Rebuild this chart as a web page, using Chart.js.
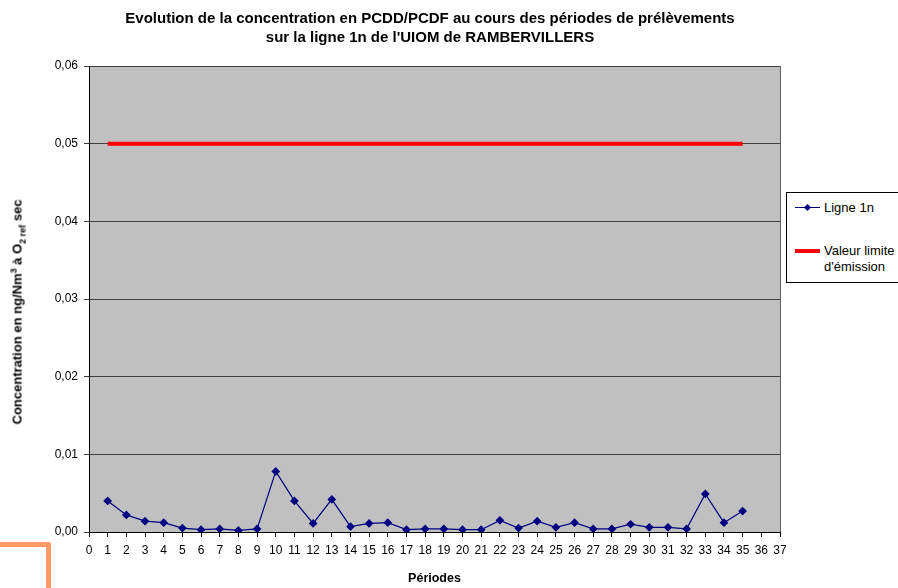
<!DOCTYPE html>
<html>
<head>
<meta charset="utf-8">
<script src="https://cdn.jsdelivr.net/npm/chart.js@4.4.1/dist/chart.umd.min.js"></script>
<style>
  body { margin: 0; background: #fff; font-family: "Liberation Sans", Arial, sans-serif; }
  #wrap { position: relative; width: 898px; height: 588px; overflow: hidden; }
  #titre {
    position: absolute; left: 430px; top: 7.5px; transform: translateX(-50%);
    white-space: nowrap; text-align: center; font-weight: bold; font-size: 15px;
    line-height: 19px; color: #000;
  }
  #ytitre {
    position: absolute; left: 18px; top: 312px; white-space: nowrap;
    transform: translate(-50%, -50%) rotate(-90deg);
    font-weight: bold; font-size: 13px; color: #000;
  }
  #ytitre sup, #ytitre sub { font-size: 9px; }
  #legende {
    position: absolute; left: 786px; top: 192px; width: 130px; height: 89px;
    border: 1px solid #000; background: #fff; font-size: 13px; color: #000;
  }
  .item { position: absolute; left: 8px; display: flex; align-items: flex-start; }
  .trait { width: 25px; position: relative; margin-right: 4px; }
  #orange {
    position: absolute; left: 0; top: 542px; width: 46px; height: 60px;
    border-top: 5px solid #ff9966; border-right: 5px solid #ff9966; border-top-right-radius: 3px;
  }
</style>
</head>
<body>
<div id="wrap">
  <canvas id="grafico" width="898" height="588"></canvas>
  <div id="titre"></div>
  <div id="ytitre">Concentration en ng/Nm<sup>3</sup> à O<sub>2 ref</sub> sec</div>
  <div id="legende">
    <div class="item" style="top:7px;">
      <div class="trait" style="height:15px;">
        <div style="position:absolute;top:7px;left:0;width:25px;height:1px;background:#000080;"></div>
        <div style="position:absolute;top:5px;left:10px;width:5px;height:5px;background:#000080;transform:rotate(45deg);"></div>
      </div>
      <span>Ligne 1n</span>
    </div>
    <div class="item" style="top:50px;">
      <div class="trait" style="height:15px;">
        <div style="position:absolute;top:6px;left:0;width:25px;height:4px;background:#ff0000;"></div>
      </div>
      <span style="line-height:16px;">Valeur limite<br>d'émission</span>
    </div>
  </div>
  <div id="orange"></div>
</div>
<script>
const titre = ["Evolution de la concentration en PCDD/PCDF au cours des périodes de prélèvements",
               "sur la ligne 1n de l'UIOM de RAMBERVILLERS"];
const periodes = [1, 2, 3, 4, 5, 6, 7, 8, 9, 10, 11, 12, 13, 14, 15, 16, 17, 18,
                  19, 20, 21, 22, 23, 24, 25, 26, 27, 28, 29, 30, 31, 32, 33, 34, 35];
const ligne1n = [0.0040, 0.0022, 0.0014, 0.0012, 0.0005, 0.0003, 0.0004, 0.0002, 0.0004,
                 0.0078, 0.0040, 0.0011, 0.0042, 0.0007, 0.0011, 0.0012, 0.0003, 0.0004,
                 0.0004, 0.0003, 0.0003, 0.0015, 0.0005, 0.0014, 0.0006, 0.0012, 0.0004,
                 0.0004, 0.0010, 0.0006, 0.0006, 0.0004, 0.0049, 0.0012, 0.0027];
const valeurLimite = 0.05;

// titre en HTML, centré comme l'original
document.getElementById("titre").innerHTML = titre.join("<br>");

// fond gris de la zone de tracé
const fondGris = {
    id: "fondGris",
    beforeDraw(chart) {
        const a = chart.chartArea;
        const ctx = chart.ctx;
        ctx.save();
        ctx.fillStyle = "#c0c0c0";
        ctx.fillRect(a.left, a.top, a.right - a.left, a.bottom - a.top);
        ctx.restore();
    },
    afterDatasetsDraw(chart) {
        const a = chart.chartArea;
        const ctx = chart.ctx;
        ctx.save();
        ctx.strokeStyle = "#606060";
        ctx.lineWidth = 1;
        ctx.beginPath();
        ctx.moveTo(a.right + 0.5, a.top);
        ctx.lineTo(a.right + 0.5, a.bottom);
        ctx.stroke();
        ctx.restore();
    }
};

function crearGrafico(canvas) {
    return new Chart(canvas, {
        type: "line",
        data: {
            datasets: [{
                label: "Valeur limite d'émission",
                data: [{ x: periodes[0], y: valeurLimite }, { x: periodes[periodes.length - 1], y: valeurLimite }],
                borderColor: "#ff0000",
                borderWidth: 4,
                pointRadius: 0,
                order: 2
            }, {
                label: "Ligne 1n",
                data: periodes.map((p, i) => ({ x: p, y: ligne1n[i] })),
                borderColor: "#000080",
                backgroundColor: "#000080",
                borderWidth: 1.2,
                pointStyle: "rectRot",
                pointRadius: 3.5,
                tension: 0,
                order: 1
            }]
        },
        options: {
            responsive: false,
            animation: false,
            layout: { padding: { left: 35, right: 118, top: 66, bottom: 2 } },
            scales: {
                x: {
                    type: "linear",
                    min: 0, max: 37,
                    ticks: { stepSize: 1, color: "#000", font: { family: "Liberation Sans", size: 12 }, padding: 6, maxRotation: 0, autoSkip: false },
                    grid: { drawOnChartArea: false, color: "#000", tickLength: 5 },
                    border: { color: "#000" },
                    title: { display: true, text: "Périodes", color: "#000", font: { family: "Liberation Sans", size: 12.5, weight: "bold" }, padding: { top: 12, bottom: 0 } },
                    afterFit: s => { s.height = 54; }
                },
                y: {
                    min: 0, max: 0.06,
                    ticks: {
                        stepSize: 0.01, color: "#000", font: { family: "Liberation Sans", size: 12 }, padding: 6,
                        callback: v => v.toFixed(2).replace(".", ",")
                    },
                    grid: { color: "#404040", tickLength: 5 },
                    border: { color: "#000" },
                    afterFit: s => { s.width = 54; }
                }
            },
            plugins: {
                legend: { display: false },
                tooltip: { enabled: false }
            }
        },
        plugins: [fondGris]
    });
}

crearGrafico(document.getElementById("grafico"));
</script>
</body>
</html>
